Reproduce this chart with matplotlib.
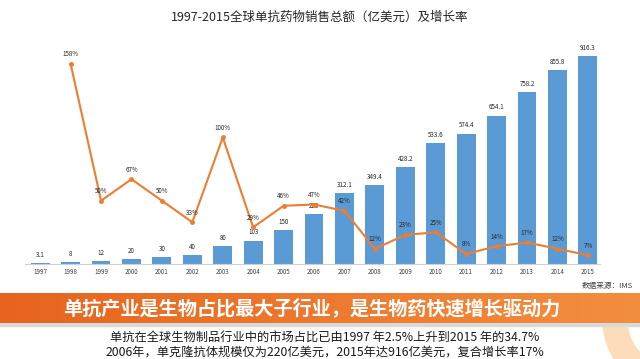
import numpy as np
import matplotlib
matplotlib.use('Agg')
import matplotlib.pyplot as plt
from matplotlib.patches import Wedge, Rectangle

plt.rcParams['font.family'] = ['Noto Sans CJK SC', 'DejaVu Sans']

# data
years = ['1997', '1998', '1999', '2000', '2001', '2002', '2003', '2004', '2005', '2006',
         '2007', '2008', '2009', '2010', '2011', '2012', '2013', '2014', '2015']
sales = [3.1, 8, 12, 20, 30, 40, 80, 103, 150, 220,
         312.1, 349.4, 428.2, 533.6, 574.4, 654.1, 758.2, 855.8, 916.3]
sales_labels = ['3.1', '8', '12', '20', '30', '40', '80', '103', '150', '220',
                '312.1', '349.4', '428.2', '533.6', '574.4', '654.1', '758.2', '855.8', '916.3']
growth = [158, 50, 67, 50, 33, 100, 29, 46, 47, 42, 12, 23, 25, 8, 14, 17, 12, 7]

W, H = 640, 359
fig = plt.figure(figsize=(6.4, 3.59), dpi=100)

# background layer in pixel coordinates
bg = fig.add_axes([0, 0, 1, 1])
bg.axis('off')

# decorative ring bottom right, only visible below the banner
ring = Wedge((675, 320), 72, 0, 360, width=24, color='#fddcbb', zorder=1)
bg.add_patch(ring)
clip = Rectangle((0, 323), W, 40, transform=bg.transData, visible=False)
bg.add_patch(clip)
ring.set_clip_path(clip)

# orange banner with gradient
grad = np.linspace(0, 1, 256)
c0 = np.array([231, 100, 30]) / 255
c1 = np.array([243, 142, 62]) / 255
img = c0[None, :] * (1 - grad[:, None]) + c1[None, :] * grad[:, None]
bg.add_patch(Rectangle((0, 323), W, 3, color='#d9d9d9', zorder=2))
bg.imshow(img[None, :, :], extent=(0, W, 323, 293), aspect='auto', zorder=3)
bg.set_xlim(0, W)
bg.set_ylim(H, 0)

bg.text(320, 17, '1997-2015全球单抗药物销售总额（亿美元）及增长率', ha='center', va='center',
        fontsize=9, color='#262626')
bg.text(633, 286, '数据来源：IMS', ha='right', va='center', fontsize=5.5, color='#404040')
bg.text(312, 308, '单抗产业是生物占比最大子行业，是生物药快速增长驱动力', ha='center', va='center',
        fontsize=13.8, color='white', fontweight='bold', zorder=4)
bg.text(325, 338, '单抗在全球生物制品行业中的市场占比已由1997 年2.5%上升到2015 年的34.7%',
        ha='center', va='center', fontsize=8.8, color='#1a1a1a', zorder=5)
bg.text(325, 352, '2006年，单克隆抗体规模仅为220亿美元，2015年达916亿美元，复合增长率17%',
        ha='center', va='center', fontsize=8.8, color='#1a1a1a', zorder=5)

# chart axes
ax = fig.add_axes([25 / W, (H - 264) / H, 575 / W, 214 / H])
ax.patch.set_alpha(0)
x = np.arange(len(years))
ax.bar(x, sales, width=0.62, color='#5b9bd5', zorder=2)
for xi, v, lab in zip(x, sales, sales_labels):
    ax.annotate(lab, (xi, v), xytext=(0, 3), textcoords='offset points',
                ha='center', va='bottom', fontsize=4.5, color='#262626')
ax.set_xlim(-0.5, 18.4)
ax.set_ylim(0, 916.3 * 214 / 208)
ax.set_xticks(x)
ax.set_xticklabels(years, fontsize=4.5, color='#404040')
ax.tick_params(axis='x', length=0, pad=3)
ax.set_yticks([])
for s in ['top', 'right', 'left']:
    ax.spines[s].set_visible(False)
ax.spines['bottom'].set_color('#d0d0d0')
ax.spines['bottom'].set_linewidth(0.8)

ax2 = ax.twinx()
ax2.set_ylim(0, 158 * 214 / 200)
ax2.plot(x[1:], growth, color='#ed7d31', linewidth=1.5, marker='o', markersize=2.5, zorder=3)
for xi, g in zip(x[1:], growth):
    ax2.annotate('%d%%' % g, (xi, g), xytext=(0, 4), textcoords='offset points',
                 ha='center', va='bottom', fontsize=4.5, color='#262626')
ax2.set_yticks([])
for s in ['top', 'right', 'left', 'bottom']:
    ax2.spines[s].set_visible(False)

fig.savefig('out.png', dpi=100)
